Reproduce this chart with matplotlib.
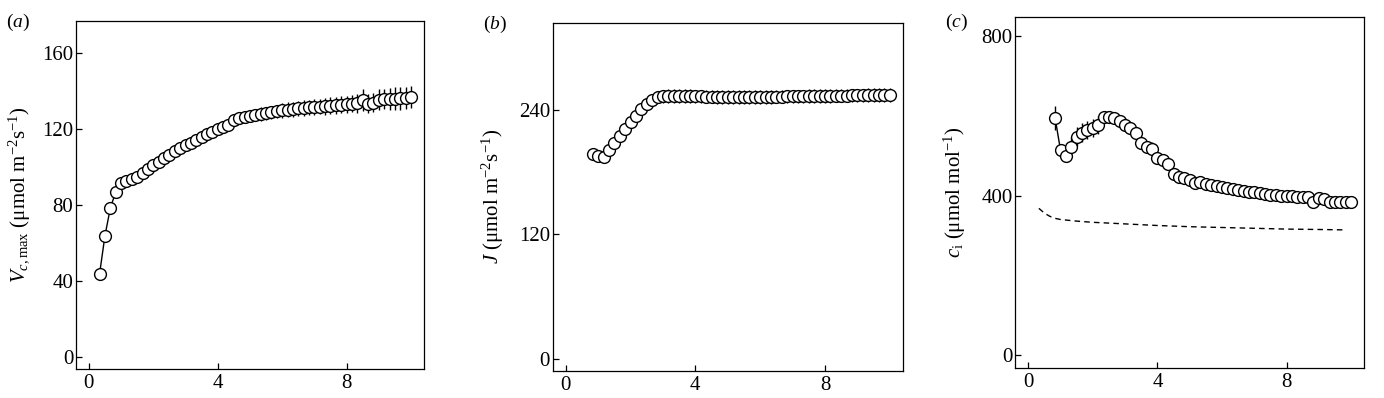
import numpy as np
import matplotlib
matplotlib.use('Agg')
import matplotlib.pyplot as plt

plt.rcParams['font.family'] = 'serif'
plt.rcParams['font.serif'] = ['Liberation Serif']
plt.rcParams['mathtext.fontset'] = 'custom'
plt.rcParams['mathtext.rm'] = 'Liberation Serif'
plt.rcParams['mathtext.it'] = 'Liberation Serif:italic'

#-------------------------------------------------------------------------------------------------------------------------
# panel (a): Vc,max
t_a = np.arange(2, 61) / 6.0
vcmax = [44, 64, 78.5, 87, 91.5, 92.8, 94, 95, 97, 99,
         101, 103, 105, 106.5, 108.5, 110, 111.5, 113, 114.5, 116,
         117.5, 118.5, 120, 121, 122.5, 125, 126, 126.5, 127, 127.5,
         128, 128.5, 129, 129.5, 130, 130.3, 130.6, 131, 131.2, 131.5,
         131.8, 132, 132.2, 132.5, 132.7, 133, 133.2, 133.4, 133.6, 135.5,
         133.5, 134, 135.5, 136, 136, 136.2, 136.3, 136.5, 137]
vcmax_err = [1, 1, 1, 1, 1, 1, 1, 1, 1, 1,
             1, 1, 1, 1, 1, 1, 1, 1, 1, 1,
             1.5, 1.5, 1.5, 1.5, 2, 2, 2.5, 2.5, 3, 3,
             3.5, 3.5, 3.5, 3.5, 4, 4, 4, 4, 4, 4,
             4, 4, 4.5, 4.5, 4.5, 4.5, 4.5, 4.5, 5, 6,
             5, 5, 5.5, 5.5, 6, 6, 6, 6, 6]

# panel (b): J
t_b = np.arange(5, 61) / 6.0
jmax = [197.5, 195, 194.5, 201, 208, 215, 221.5, 228, 234.5, 240.5,
        246, 249.5, 252, 253, 253.5, 253.5, 253.5, 253.3, 253.2, 253,
        253, 252.8, 252.7, 252.6, 252.5, 252.5, 252.4, 252.4, 252.4, 252.5,
        252.5, 252.5, 252.6, 252.6, 252.7, 252.8, 252.9, 253, 253, 253.1,
        253.2, 253.3, 253.4, 253.5, 253.5, 253.6, 253.7, 253.8, 253.9, 254,
        254, 254.1, 254.2, 254.3, 254.4, 254.5]
jmax_err = [2, 2, 2, 2, 2, 2, 2, 2, 3, 3,
            3, 4, 5, 6, 6.5, 6.5, 6.5, 6.5, 6.5, 6.5,
            6.5, 6.5, 6.5, 6.5, 6.5, 6.5, 6.5, 6.5, 6.5, 6.5,
            6.5, 6.5, 6.5, 6.5, 6.5, 6.5, 6.5, 6.5, 6.5, 6.5,
            6.5, 6.5, 6.5, 6.5, 6.5, 6.5, 6.5, 6.5, 6.5, 6.5,
            6.5, 6.5, 6.5, 6.5, 6.5, 6.5]

# panel (c): ci
t_c = np.arange(5, 61) / 6.0
ci = [594, 514, 500, 523, 548, 558, 565, 569, 577, 596,
      598, 594, 586, 577, 569, 556, 531, 521, 516, 494,
      488, 479, 454, 446, 443, 439, 431, 435, 430, 427,
      424, 421, 418, 416, 414, 412, 410, 408, 406, 404,
      402, 401, 400, 399, 398, 397, 396, 396, 383, 393,
      392, 384, 384, 384, 384, 384]
ci_err = [30, 6, 6, 23, 23, 23, 23, 23, 23, 8,
          8, 8, 8, 8, 8, 8, 8, 8, 18, 8,
          8, 8, 8, 8, 8, 8, 8, 8, 8, 8,
          6, 6, 6, 6, 6, 6, 6, 6, 6, 6,
          6, 6, 6, 6, 6, 6, 6, 6, 6, 6,
          6, 6, 6, 6, 6, 6]
# dashed reference curve in (c)
t_ca = [0.33, 0.5, 0.67, 0.83, 1.0, 1.5, 2, 3, 4, 5, 6, 7, 8, 9, 9.8]
ca = [368, 356, 348, 343, 340, 336, 333, 329, 325, 322, 320, 318, 316, 315, 314]

#-------------------------------------------------------------------------------------------------------------------------
fig = plt.figure(figsize=(13.84, 3.98), dpi=100)
ax1 = fig.add_axes([0.0549, 0.0729, 0.2514, 0.874])
ax2 = fig.add_axes([0.3994, 0.0678, 0.2529, 0.875])
ax3 = fig.add_axes([0.7336, 0.0746, 0.2520, 0.883])

style = dict(fmt='-o', color='black', mfc='white', mec='black', ms=8.5, mew=1.0,
             lw=1.0, elinewidth=1.0, capsize=0)

ax1.errorbar(t_a, vcmax, yerr=vcmax_err, **style)
ax2.errorbar(t_b, jmax, yerr=jmax_err, **style)
ax3.plot(t_ca, ca, '--', color='black', lw=1.0, dashes=(4, 3))
ax3.errorbar(t_c, ci, yerr=ci_err, **style)

ax1.set_ylim(-6.3, 177)
ax1.set_yticks([0, 40, 80, 120, 160])
ax2.set_ylim(-12, 324)
ax2.set_yticks([0, 120, 240])
ax3.set_ylim(-33, 848)
ax3.set_yticks([0, 400, 800])

ax1.set_ylabel(r'$V_{c,\mathrm{max}}$ (μmol m$^{-2}$s$^{-1}$)', fontsize=15)
ax2.set_ylabel(r'$J$ (μmol m$^{-2}$s$^{-1}$)', fontsize=15)
ax3.set_ylabel(r'$c_{\mathrm{i}}$ (μmol mol$^{-1}$)', fontsize=15)
ax1.yaxis.set_label_coords(-0.125, 0.5)
ax2.yaxis.set_label_coords(-0.135, 0.5)
ax3.yaxis.set_label_coords(-0.135, 0.5)

for ax, lab, xy in [(ax1, 'a', (0.004, 0.97)), (ax2, 'b', (0.349, 0.965)), (ax3, 'c', (0.683, 0.97))]:
    ax.set_xlim(-0.4, 10.4)
    ax.set_xticks([0, 4, 8])
    ax.tick_params(direction='in', length=4.3, width=0.9, labelsize=15)
    ax.tick_params(axis='y', pad=2)
    ax.tick_params(axis='x', pad=3.5)
    for s in ax.spines.values():
        s.set_linewidth(0.9)
    fig.text(xy[0], xy[1], '($' + lab + '$)', fontsize=14, ha='left', va='top')

plt.savefig('out.png', dpi=100)
